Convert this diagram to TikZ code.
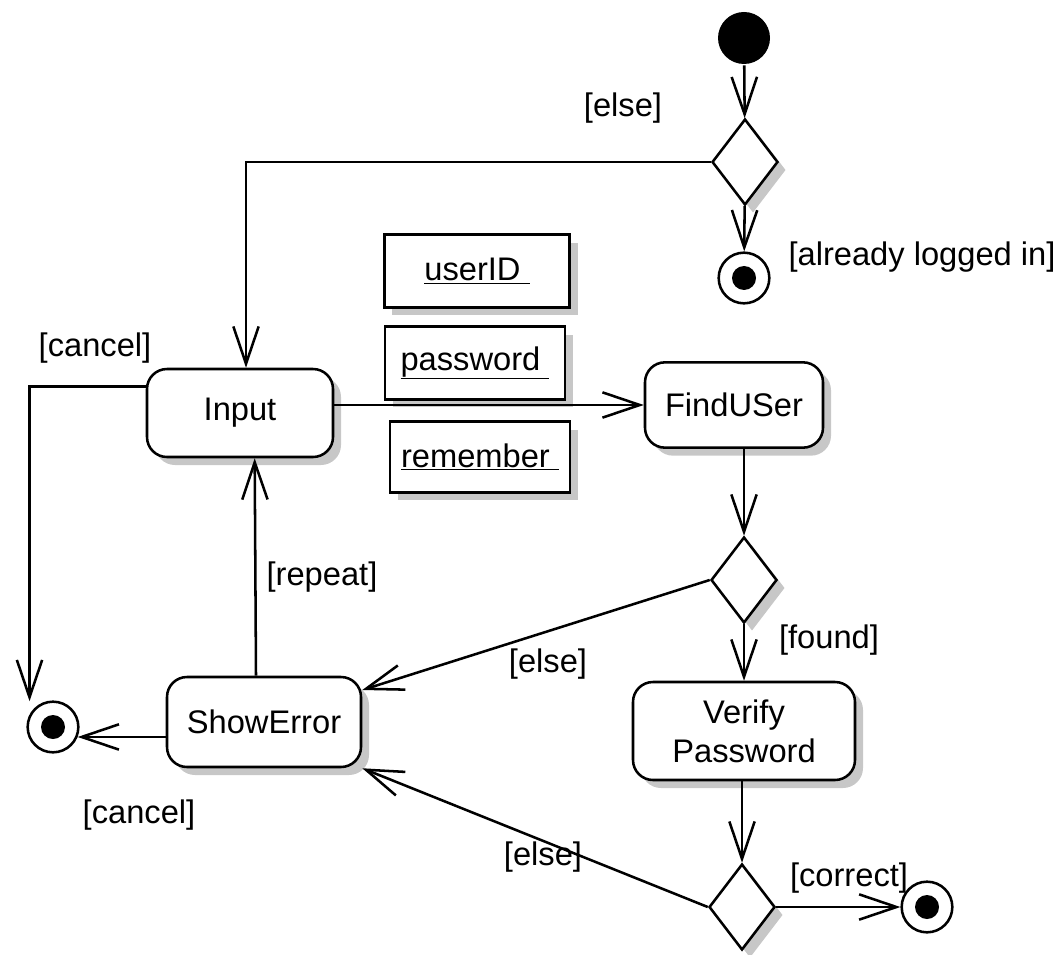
\documentclass[tikz,border=0pt]{standalone}
\usepackage{fontspec}
\setmainfont{Liberation Sans}
\usetikzlibrary{shapes.geometric,arrows.meta}

\begin{document}
\begin{tikzpicture}[x=0.75pt,y=-0.75pt,line width=1.9pt,font=\fontsize{24.5}{29}\selectfont]
   \tikzstyle{shdw}=[preaction={fill=black!22,draw=none,transform canvas={shift={(8,8)}}}]
   \tikzstyle{act}=[draw,rounded corners=15pt,fill=white,shdw,align=center]
   \tikzstyle{dec}=[draw,diamond,fill=white,shdw,minimum width=49.5pt,minimum height=64.5pt,inner sep=0pt]
   \tikzstyle{obj}=[draw,fill=white,shdw,minimum width=137pt,minimum height=54.5pt]
   \tikzstyle{fin}=[draw,circle,fill=white,minimum size=38pt,inner sep=0pt,
      path picture={\fill[black] (path picture bounding box.center) circle (9pt);}]
   \tikzstyle{flow}=[-{Straight Barb[length=28pt,width=19pt]}]

   \useasboundingbox (0,0) rectangle (1062,955);

   \node (st) [circle,fill,minimum size=39pt,inner sep=0pt] at (744,38) {} ;
   \node (d1) [dec] at (745,162) {} ;
   \node (f1) [fin] at (744,278) {} ;

   \node (in) [act,minimum width=139.5pt,minimum height=66pt] at (240,413) {Input} ;
   \node (fu) [act,minimum width=133.5pt,minimum height=64pt] at (734,405) {FindUSer} ;
   \node (d2) [dec] at (744,580) {} ;
   \node (vp) [act,minimum width=166.5pt,minimum height=73.5pt] at (744,731) {Verify\\Password} ;
   \node (d3) [dec] at (742,907) {} ;
   \node (f3) [fin] at (927,907) {} ;
   \node (se) [act,minimum width=145.5pt,minimum height=67.5pt] at (264,722) {ShowError} ;
   \node (f2) [fin] at (53,727) {} ;

   \node (o1) [obj,minimum width=139pt] at (477,271) {\raisebox{-6pt}{\underline{userID\ }}} ;
   \node (o2) [obj,minimum width=135pt] at (475,363) {\raisebox{-6pt}{\underline{password\ }}} ;
   \node (o3) [obj,minimum width=135pt,minimum height=53pt] at (480,457) {\raisebox{-6pt}{\underline{remember\ }}} ;

   \draw [flow] (st) -- (d1) ;
   \draw [flow] (d1) -- (f1) ;
   \draw [flow] (d1.west) -| ([xshift=4.5pt]in.north) ;
   \draw [flow] ([yshift=20pt]in.west) -| ([yshift=10pt]f2.152) ;
   \draw [flow] (in.east |- fu.west) -- (fu.west) ;
   \draw [flow] (fu.south -| d2.north) -- (d2.north) ;
   \draw [flow] (d2) -- (vp) ;
   \draw [flow] (vp.south -| d3.north) -- (d3.north) ;
   \draw [flow] (d3) -- (f3) ;
   \draw [flow] (d2.west) -- ([yshift=24pt]se.east) ;
   \draw [flow] (d3.west) -- (se.south east) ;
   \draw [flow] ([xshift=-6pt]se.north) -- ([xshift=11pt]in.south) ;
   \draw [flow] (se.west |- f2.-22) -- (f2.-22) ;

   \node (g1) at (623,108) {[else]} ;
   \node (g2) at (922,257) {[already logged in]} ;
   \node (g3) at (95,348) {[cancel]} ;
   \node (g4) at (322,577) {[repeat]} ;
   \node (g5) at (548,664) {[else]} ;
   \node (g6) at (829,640) {[found]} ;
   \node (g7) at (139,815) {[cancel]} ;
   \node (g8) at (543,857) {[else]} ;
   \node (g9) at (849,878) {[correct]} ;

\end{tikzpicture}
\end{document}
